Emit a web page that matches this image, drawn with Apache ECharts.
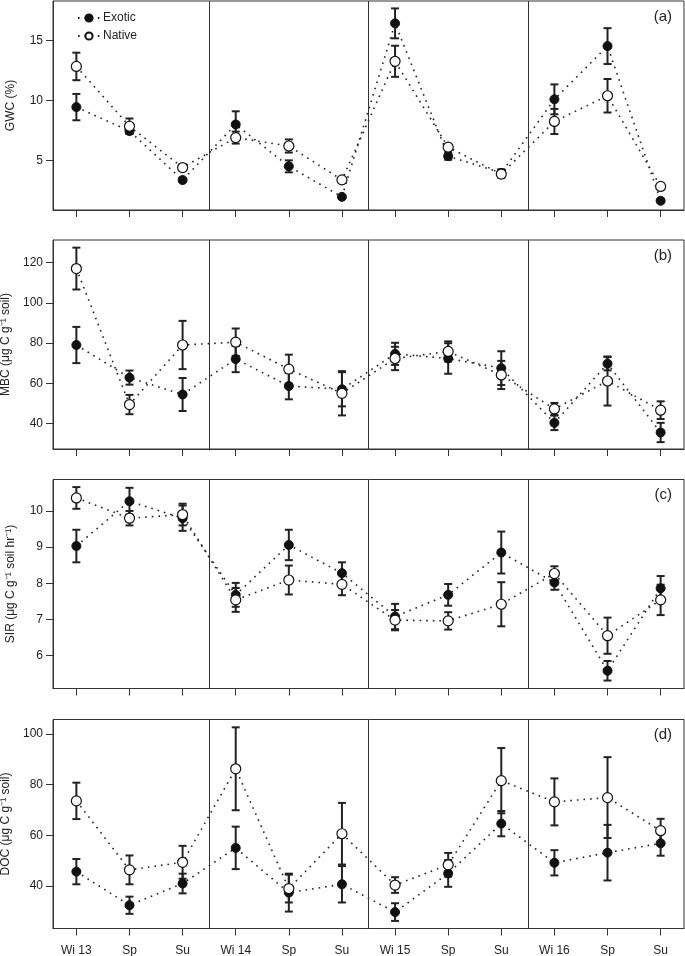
<!DOCTYPE html>
<html>
<head>
<meta charset="utf-8">
<script src="https://cdn.jsdelivr.net/npm/echarts@6/dist/echarts.min.js"></script>
<style>
html,body{margin:0;padding:0;background:#fff;}
#chart{width:685px;height:956px;}
</style>
</head>
<body>
<div id="chart"></div>
<script>
// ---- data ----
var categories = ['Wi 13','Sp','Su','Wi 14','Sp','Su','Wi 15','Sp','Su','Wi 16','Sp','Su'];

var gwcExotic   = [9.45, 7.45, 3.35, 8.0, 4.5, 1.95, 16.45, 5.35, 3.95, 10.1, 14.55, 1.62];
var gwcExoticSE = [1.1, 0.2, 0.15, 1.1, 0.5, 0.1, 1.25, 0.3, 0.3, 1.25, 1.5, 0.1];
var gwcNative   = [12.85, 7.85, 4.4, 6.9, 6.2, 3.37, 13.28, 6.1, 3.85, 8.25, 10.4, 2.82];
var gwcNativeSE = [1.15, 0.65, 0.25, 0.5, 0.55, 0.2, 1.3, 0.2, 0.3, 1.05, 1.4, 0.15];

var mbcExotic   = [79, 62.8, 54.4, 72, 58.6, 57, 74.6, 72.3, 67.5, 40.3, 69.7, 35.5];
var mbcExoticSE = [9, 3.5, 8.2, 6.5, 6.6, 8.5, 5.5, 7.6, 8.4, 3.6, 3.3, 4.8];
var mbcNative   = [117, 49.4, 79, 80.4, 67, 55, 72.3, 75.8, 64.1, 47.2, 61.1, 46.6];
var mbcNativeSE = [10.4, 4.8, 12, 6.8, 7.2, 11, 5.8, 5, 7, 3, 12.2, 4.4];

var sirExotic   = [9.03, 10.27, 9.8, 7.68, 9.06, 8.28, 7.08, 7.68, 8.85, 8.02, 5.58, 7.86];
var sirExoticSE = [0.45, 0.37, 0.35, 0.33, 0.42, 0.3, 0.35, 0.3, 0.58, 0.2, 0.27, 0.34];
var sirNative   = [10.36, 9.8, 9.9, 7.54, 8.09, 7.97, 6.98, 6.96, 7.42, 8.27, 6.55, 7.54];
var sirNativeSE = [0.3, 0.2, 0.3, 0.33, 0.4, 0.3, 0.28, 0.24, 0.61, 0.2, 0.5, 0.42];

var docExotic   = [45.6, 32.3, 40.9, 55, 37.3, 40.6, 29.6, 44.9, 64.6, 49.1, 53.1, 56.8];
var docExoticSE = [5, 3.4, 3.9, 8.4, 7.5, 7.2, 3.5, 5.3, 5, 5, 11, 4.9];
var docNative   = [73.6, 46.3, 49.3, 86.3, 38.9, 60.6, 40.3, 48.3, 81.6, 73.2, 74.9, 61.8];
var docNativeSE = [7.2, 5.7, 6.5, 16.4, 5.5, 12.2, 3.1, 4.7, 12.9, 9.3, 16, 4.7];

var gwcTicks = [5, 10, 15];
var mbcTicks = [40, 60, 80, 100, 120];
var sirTicks = [6, 7, 8, 9, 10];
var docTicks = [40, 60, 80, 100];

var yearBreaks = [3.5, 6.5, 9.5];
var panelLabels = ['(a)', '(b)', '(c)', '(d)'];
var yNames = ['GWC (%)', 'MBC (\u03bcg C g\u207b\u00b9 soil)', 'SIR (\u03bcg C g\u207b\u00b9 soil hr\u207b\u00b9)', 'DOC (\u03bcg C g\u207b\u00b9 soil)'];

// ---- layout ----
var panels = [
  {ex: gwcExotic, exSE: gwcExoticSE, na: gwcNative, naSE: gwcNativeSE, ticks: gwcTicks, min: 0.85, max: 18.32, top: 1},
  {ex: mbcExotic, exSE: mbcExoticSE, na: mbcNative, naSE: mbcNativeSE, ticks: mbcTicks, min: 27.3, max: 131.2, top: 240},
  {ex: sirExotic, exSE: sirExoticSE, na: sirNative, naSE: sirNativeSE, ticks: sirTicks, min: 5.09, max: 10.87, top: 479.5},
  {ex: docExotic, exSE: docExoticSE, na: docNative, naSE: docNativeSE, ticks: docTicks, min: 23.1, max: 105.8, top: 719.5}
];
var xIdx = categories.map(function(c, i){ return i + 1; });
var FONT = 'Liberation Sans, Arial, sans-serif';
var INK = '#222';

function renderErr(params, api) {
  var x = api.value(0), lo = api.value(1), hi = api.value(2);
  var p1 = api.coord([x, hi]), p2 = api.coord([x, lo]);
  var w = 4;
  var st = {stroke: INK, lineWidth: 2};
  return {type: 'group', children: [
    {type: 'line', shape: {x1: p1[0], y1: p1[1], x2: p2[0], y2: p2[1]}, style: st},
    {type: 'line', shape: {x1: p1[0] - w, y1: p1[1], x2: p1[0] + w, y2: p1[1]}, style: st},
    {type: 'line', shape: {x1: p2[0] - w, y1: p2[1], x2: p2[0] + w, y2: p2[1]}, style: st}
  ]};
}

var grids = [], xAxes = [], yAxes = [], series = [], titles = [];
panels.forEach(function(p, k) {
  grids.push({left: 53, right: 1, top: p.top, height: 209, show: true, borderColor: '#333', borderWidth: 1,
    backgroundColor: 'transparent', containLabel: false, outerBoundsMode: 'none'});
  xAxes.push({
    type: 'value', gridIndex: k, min: 0.56, max: 12.44,
    axisLine: {show: true, onZero: false, lineStyle: {color: '#333', width: 1}},
    axisTick: {show: true, length: 7, customValues: xIdx, lineStyle: {color: '#333'}},
    axisLabel: {show: k === 3, customValues: xIdx, margin: 16, color: INK, fontFamily: FONT, fontSize: 12,
      formatter: function(v){ return categories[Math.round(v) - 1] || ''; }},
    splitLine: {show: false}
  });
  yAxes.push({
    type: 'value', gridIndex: k, min: p.min, max: p.max,
    name: yNames[k], nameLocation: 'middle', nameRotate: 90, nameGap: 36,
    nameTextStyle: {color: INK, fontFamily: FONT, fontSize: 12},
    axisLine: {show: true, onZero: false, lineStyle: {color: '#333', width: 1}},
    axisTick: {show: true, length: 7, customValues: p.ticks, lineStyle: {color: '#333'}},
    axisLabel: {customValues: p.ticks, margin: 10, color: INK, fontFamily: FONT, fontSize: 12},
    splitLine: {show: false}
  });
  titles.push({text: panelLabels[k], right: 8, top: p.top + 3,
    textStyle: {fontFamily: FONT, fontSize: 15, fontWeight: 'normal', color: INK}});

  var errData = [];
  p.ex.forEach(function(v, i){ errData.push([i + 1, v - p.exSE[i], v + p.exSE[i]]); });
  p.na.forEach(function(v, i){ errData.push([i + 1, v - p.naSE[i], v + p.naSE[i]]); });
  series.push({
    type: 'custom', xAxisIndex: k, yAxisIndex: k, renderItem: renderErr, data: errData,
    encode: {x: 0, y: [1, 2]}, z: 1, silent: true,
    markLine: {silent: true, symbol: ['none', 'none'], label: {show: false},
      lineStyle: {color: '#333', width: 1, type: 'solid'},
      data: yearBreaks.map(function(b){ return {xAxis: b}; })}
  });
  series.push({
    name: 'Exotic', type: 'line', xAxisIndex: k, yAxisIndex: k, z: 3,
    data: p.ex.map(function(v, i){ return [i + 1, v]; }),
    symbol: 'circle', symbolSize: 9,
    lineStyle: {color: INK, width: 1.6, type: [1.6, 5]},
    itemStyle: {color: '#111', borderColor: '#111', borderWidth: 1},
    emphasis: {disabled: true}
  });
  series.push({
    name: 'Native', type: 'line', xAxisIndex: k, yAxisIndex: k, z: 4,
    data: p.na.map(function(v, i){ return [i + 1, v]; }),
    symbol: 'circle', symbolSize: 10,
    lineStyle: {color: INK, width: 1.6, type: [1.6, 5]},
    itemStyle: {color: '#fff', borderColor: '#111', borderWidth: 1.2},
    emphasis: {disabled: true}
  });
});

var chart = echarts.init(document.getElementById('chart'), null, {renderer: 'canvas'});
chart.setOption({
  animation: false,
  backgroundColor: '#fff',
  title: titles,
  legend: {
    data: ['Exotic', 'Native'], orient: 'vertical', left: 72, top: 7,
    itemWidth: 22, itemHeight: 9, itemGap: 6,
    textStyle: {fontFamily: FONT, fontSize: 12, color: INK, padding: [0, 0, 0, -2]},
    selectedMode: false
  },
  grid: grids,
  xAxis: xAxes,
  yAxis: yAxes,
  series: series
});
</script>
</body>
</html>
